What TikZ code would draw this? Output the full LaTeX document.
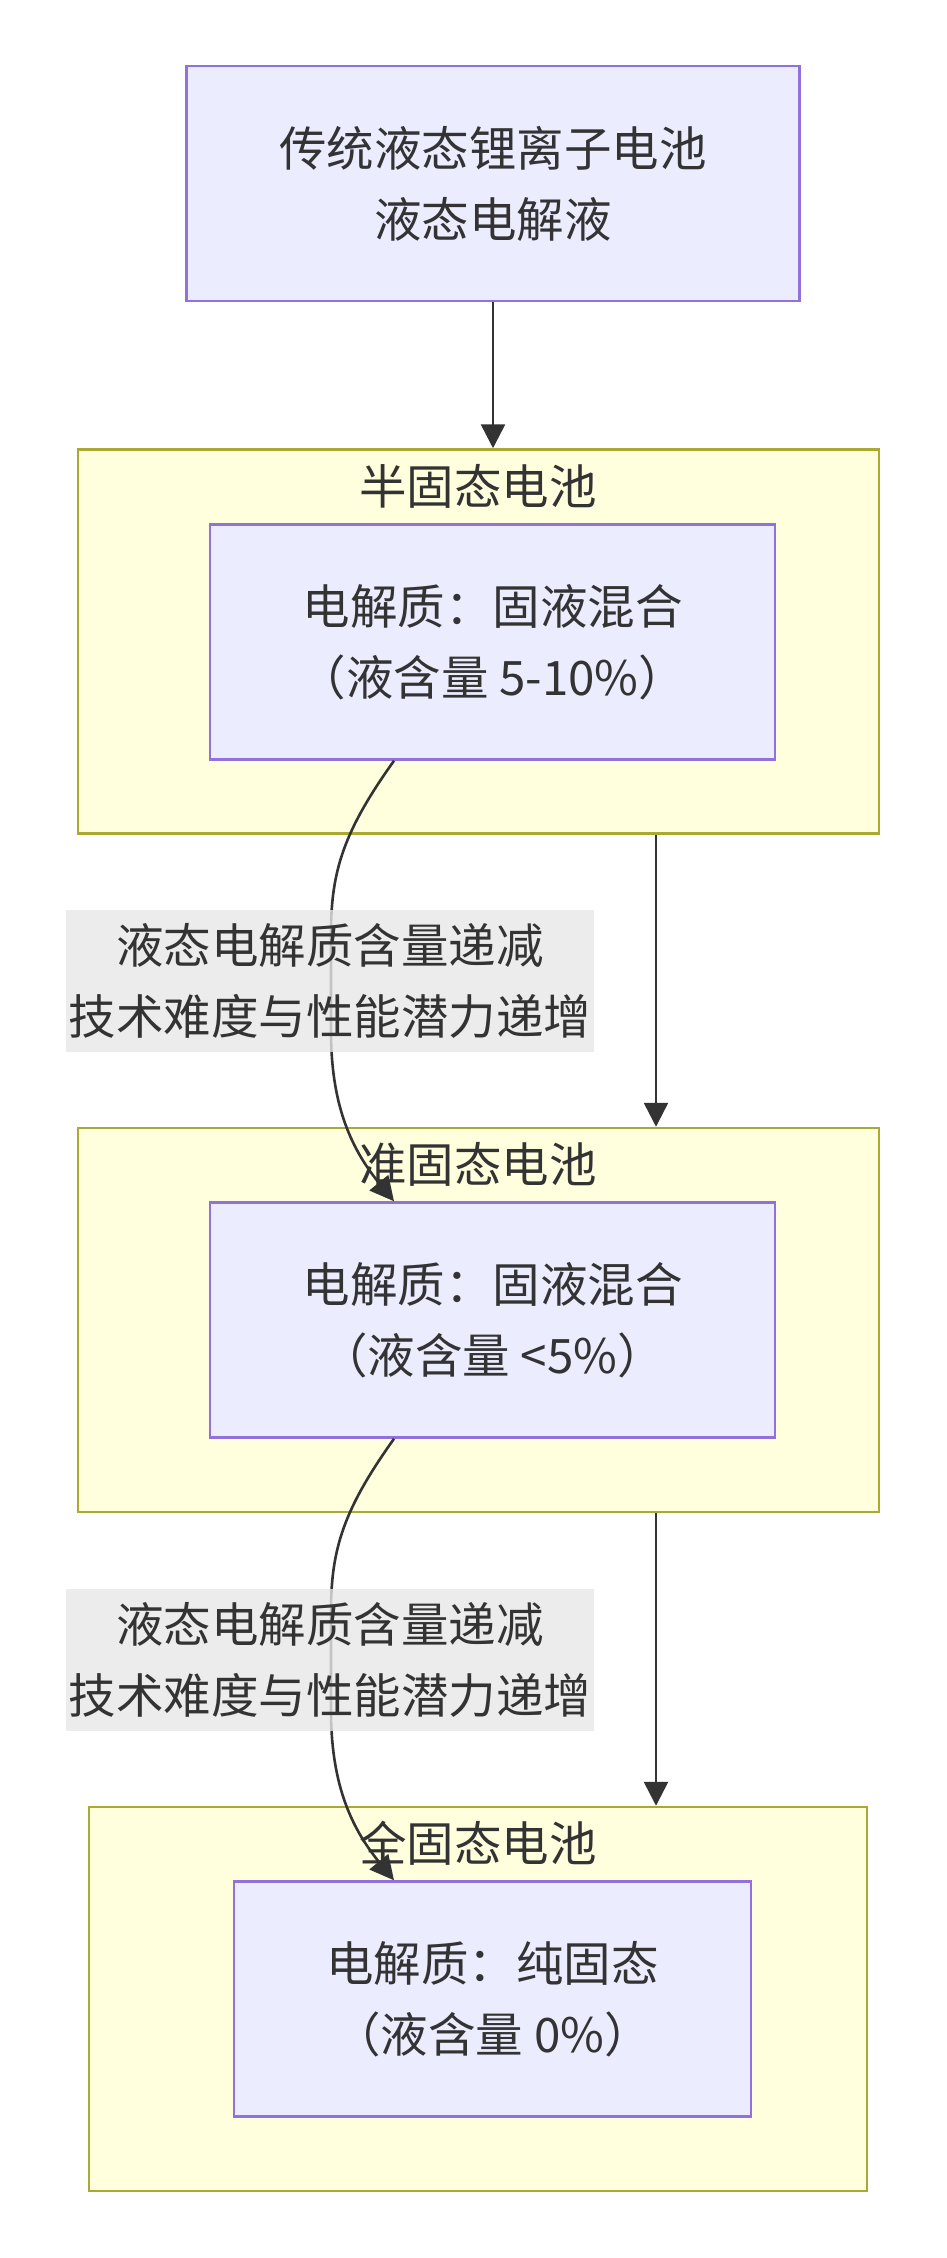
\documentclass[tikz,border=0pt]{standalone}
\usepackage{fontspec}
\setmainfont{Noto Sans CJK SC}
\usetikzlibrary{arrows.meta,calc}
\definecolor{nodefill}{HTML}{ECECFF}
\definecolor{nodestroke}{HTML}{9370DB}
\definecolor{clfill}{HTML}{FFFFDE}
\definecolor{clstroke}{HTML}{AAAA33}
\definecolor{ink}{HTML}{333333}
\definecolor{lblbg}{HTML}{E8E8E8}
\tikzset{
  txt/.style={text=ink, font=\fontsize{47.5}{71}\selectfont, align=center},
  cluster/.style={draw=clstroke, fill=clfill, line width=2.5pt, inner sep=0pt},
  box/.style={draw=nodestroke, fill=nodefill, line width=2.5pt, inner sep=0pt, txt},
  title/.style={txt, inner sep=0pt},
  lbl/.style={fill=lblbg, fill opacity=0.8, text opacity=1, inner sep=0pt, txt,
              minimum width=528pt, minimum height=142pt},
  arr/.style={draw=ink, line width=2.6pt, -{Triangle[length=24pt,width=24pt]}}
}
\begin{document}
\begin{tikzpicture}[x=1pt,y=-1pt]
\fill[white] (0,0) rectangle (947,2258);
\useasboundingbox (0,0) rectangle (947,2258);

% clusters
\node[cluster, minimum width=801pt, minimum height=384pt] (sg1) at (478.5,641.5) {};
\node[cluster, minimum width=801pt, minimum height=384pt] (sg2) at (478.5,1320) {};
\node[cluster, minimum width=778pt, minimum height=384pt] (sg3) at (478,1999) {};

% nodes
\node[box, minimum width=613pt, minimum height=235pt] (top) at (493,183.5)
  {传统液态锂离子电池\\液态电解液};
\node[title] (t1) at (478,486) {半固态电池};
\node[box, minimum width=565pt, minimum height=235pt] (in1) at (492.5,642)
  {电解质：固液混合\\（液含量 5-10\%）};
\node[title] (t2) at (478,1164) {准固态电池};
\node[box, minimum width=565pt, minimum height=235pt] (in2) at (492.5,1320)
  {电解质：固液混合\\（液含量 <5\%）};
\node[title] (t3) at (478,1843) {全固态电池};
\node[box, minimum width=517pt, minimum height=235pt] (in3) at (492.5,1999)
  {电解质：纯固态\\（液含量 0\%）};

% coordinates for connectors
\coordinate (x656) at (656,0);
\coordinate (s1) at ($(in1.south)+(-98.5,0)$);
\coordinate (e1) at ($(in2.north)+(-98.5,0)$);
\coordinate (s2) at ($(in2.south)+(-98.5,0)$);
\coordinate (e2) at ($(in3.north)+(-98.5,0)$);

% edges
\draw[arr] (top.south) -- (top.south |- sg1.north);
\draw[arr] (sg1.south -| x656) -- (sg2.north -| x656);
\draw[arr] (sg2.south -| x656) -- (sg3.north -| x656);
\draw[arr] (s1) .. controls ($(s1)+(-50,70)$) and ($(s1)+(-63,110)$) .. ($(s1)+(-63,172)$)
  -- ($(e1)+(-63,-170)$) .. controls ($(e1)+(-63,-100)$) and ($(e1)+(-45,-55)$) .. (e1);
\draw[arr] (s2) .. controls ($(s2)+(-50,70)$) and ($(s2)+(-63,110)$) .. ($(s2)+(-63,172)$)
  -- ($(e2)+(-63,-170)$) .. controls ($(e2)+(-63,-100)$) and ($(e2)+(-45,-55)$) .. (e2);

% edge labels
\node[lbl] (l1) at (330,981) {液态电解质含量递减\\技术难度与性能潜力递增};
\node[lbl] (l2) at (330,1660) {液态电解质含量递减\\技术难度与性能潜力递增};
\end{tikzpicture}
\end{document}
